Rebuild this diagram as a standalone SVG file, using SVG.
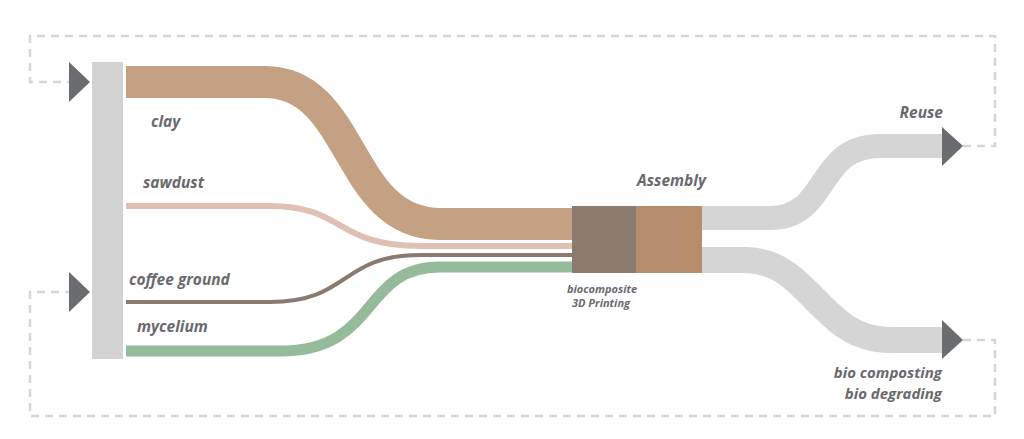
<svg xmlns="http://www.w3.org/2000/svg" width="1024" height="439" viewBox="0 0 1024 439">
<style>
.lbl{font-family:"Open Sans","Liberation Sans",sans-serif;font-weight:bold;font-style:italic;fill:#6a6a6e;font-size:15.5px}
.sm{font-size:11px}
.md{font-size:15px}
.dash{fill:none;stroke:#d6d6d6;stroke-width:2.5;stroke-dasharray:8 6}
.band{fill:none}
.arrow{fill:#6b6c70}
</style>
<rect width="1024" height="439" fill="#ffffff"/>
<g id="loops">
<path class="dash" d="M963 146 H995 V36 H30 V82 H69"/>
<path class="dash" d="M963 340 H995 V416 H30 V292 H69"/>
</g>
<g id="connectors">
<path class="band" stroke="#c4a182" stroke-width="32" d="M126 82 H265 C355 82 345 224 440 224 H573"/>
<path class="band" stroke="#dfc1b4" stroke-width="6" d="M126 206 H270 C345 206 335 246 420 246 H573"/>
<path class="band" stroke="#8b7a6f" stroke-width="4" d="M126 302 H270 C350 302 340 255 420 255 H573"/>
<path class="band" stroke="#95bb9a" stroke-width="11" d="M126 351 H280 C380 351 360 267 440 267 H573"/>
<path class="band" stroke="#d5d5d5" stroke-width="24" d="M701 218 H770 C830 218 815 146 880 146 H943"/>
<path class="band" stroke="#d5d5d5" stroke-width="26" d="M701 260 H745 C810 260 820 340 890 340 H943"/>
</g>
<g id="source">
<rect x="92" y="62" width="31" height="297" fill="#d3d3d3"/>
</g>
<g id="arrow-in-top"><polygon class="arrow" points="69,62 90,82 69,102"/></g>
<g id="arrow-in-bottom"><polygon class="arrow" points="69,272 90,292 69,312"/></g>
<g id="assembly">
<rect x="572" y="206" width="64" height="67" fill="#8b7a6e"/>
<rect x="636" y="206" width="66" height="67" fill="#b88d6e"/>
<text class="lbl" x="637" y="186">Assembly</text>
<text class="lbl sm"><tspan x="567" y="293">biocomposite</tspan><tspan x="572" y="307">3D Printing</tspan></text>
</g>
<g id="reuse">
<polygon class="arrow" points="942,127 963,146 942,166"/>
<text class="lbl" x="943" y="118" text-anchor="end">Reuse</text>
</g>
<g id="compost">
<polygon class="arrow" points="942,320 963,340 942,359"/>
<text class="lbl md" text-anchor="end"><tspan x="942" y="378">bio composting</tspan><tspan x="942" y="398.5">bio degrading</tspan></text>
</g>
<g id="labels">
<text class="lbl" x="151" y="127">clay</text>
<text class="lbl" x="143" y="188">sawdust</text>
<text class="lbl" x="129" y="285">coffee ground</text>
<text class="lbl" x="137" y="332">mycelium</text>
</g>
</svg>
